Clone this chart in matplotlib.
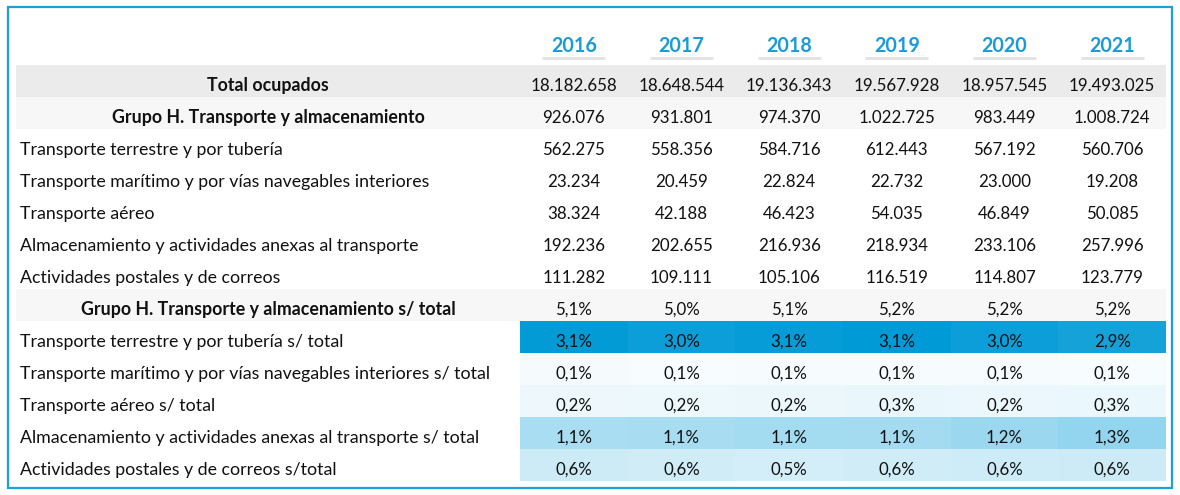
import numpy as np
import matplotlib
matplotlib.use('Agg')
import matplotlib.pyplot as plt
from matplotlib.colors import LinearSegmentedColormap, Normalize
from matplotlib.patches import Rectangle

#----------------
#Data

years = ['2016', '2017', '2018', '2019', '2020', '2021']

total_ocupados = [18182658, 18648544, 19136343, 19567928, 18957545, 19493025]
grupo_h = [926076, 931801, 974370, 1022725, 983449, 1008724]
terrestre = [562275, 558356, 584716, 612443, 567192, 560706]
maritimo = [23234, 20459, 22824, 22732, 23000, 19208]
aereo = [38324, 42188, 46423, 54035, 46849, 50085]
almacen = [192236, 202655, 216936, 218934, 233106, 257996]
postales = [111282, 109111, 105106, 116519, 114807, 123779]

count_labels = ['Total ocupados',
                'Grupo H. Transporte y almacenamiento',
                'Transporte terrestre y por tubería',
                'Transporte marítimo y por vías navegables interiores',
                'Transporte aéreo',
                'Almacenamiento y actividades anexas al transporte',
                'Actividades postales y de correos']
share_labels = ['Grupo H. Transporte y almacenamiento s/ total',
                'Transporte terrestre y por tubería s/ total',
                'Transporte marítimo y por vías navegables interiores s/ total',
                'Transporte aéreo s/ total',
                'Almacenamiento y actividades anexas al transporte s/ total',
                'Actividades postales y de correos s/total']

#----------------
#Helpers

def miles(n):
    return f'{n:,}'.replace(',', '.')

def pct(v):
    return f'{v:.1f}%'.replace('.', ',')

counts = [total_ocupados, grupo_h, terrestre, maritimo, aereo, almacen, postales]
shares = np.array([np.array(c) / np.array(total_ocupados) * 100 for c in counts[1:]])

#----------------
#Layout (pixels)

W, H = 1180, 495
x0, x1 = 16, 1166
col_left = 520
col_edges = np.linspace(col_left, x1, len(years) + 1)
col_centers = (col_edges[:-1] + col_edges[1:]) / 2
top = 65
rh = 32.0
blue = '#1a9bd7'

plt.rcParams['font.family'] = ['Lato', 'DejaVu Sans']

fig = plt.figure(figsize=(W / 100, H / 100), dpi=100)
ax = fig.add_axes([0, 0, 1, 1])
ax.set_xlim(0, W)
ax.set_ylim(H, 0)
ax.axis('off')

# outer frame
ax.add_patch(Rectangle((8, 7), 1164, 481, fill=False, edgecolor='#1aa0dc', lw=1.6))

# headers
for xc, yr in zip(col_centers, years):
    ax.text(xc, 51.7, yr, ha='center', va='baseline', fontsize=14.2,
            fontweight='bold', color=blue)
    ax.plot([xc - 31.5, xc + 31.5], [58.3, 58.3], color='#e4e4e4', lw=2.2,
            solid_capstyle='butt')

# row bands
ax.add_patch(Rectangle((x0, top), x1 - x0, rh, color='#ebebeb', lw=0))
ax.add_patch(Rectangle((x0, top + rh), x1 - x0, rh, color='#f7f7f7', lw=0))
ax.add_patch(Rectangle((x0, top + 7 * rh), x1 - x0, rh, color='#f7f7f7', lw=0))

# heat cells for shares of the subsectors
cmap = LinearSegmentedColormap.from_list('azul', ['#ffffff', '#009ad6'])
row_edges = top + rh * np.arange(8, 14)
ax.pcolormesh(col_edges, row_edges, shares[1:], cmap=cmap,
              norm=Normalize(0, shares[1:].max()), shading='flat', zorder=1)

fs_lab = 12.8
fs_num = 12.2
def row_text(i, label, vals, bold=False):
    yb = top + rh * i + 26
    if bold:
        ax.text(268, yb, label, ha='center', va='baseline', fontsize=fs_lab,
                fontweight='bold', color='#111111', zorder=3)
    else:
        ax.text(20, yb, label, ha='left', va='baseline', fontsize=fs_lab,
                color='#111111', zorder=3)
    for xc, v in zip(col_centers, vals):
        ax.text(xc, yb, v, ha='center', va='baseline', fontsize=fs_num,
                color='#111111', zorder=3)

for i, (lab, c) in enumerate(zip(count_labels, counts)):
    row_text(i, lab, [miles(v) for v in c], bold=(i < 2))

for j, (lab, s) in enumerate(zip(share_labels, shares)):
    row_text(7 + j, lab, [pct(v) for v in s], bold=(j == 0))

fig.savefig('out.png', dpi=100)
